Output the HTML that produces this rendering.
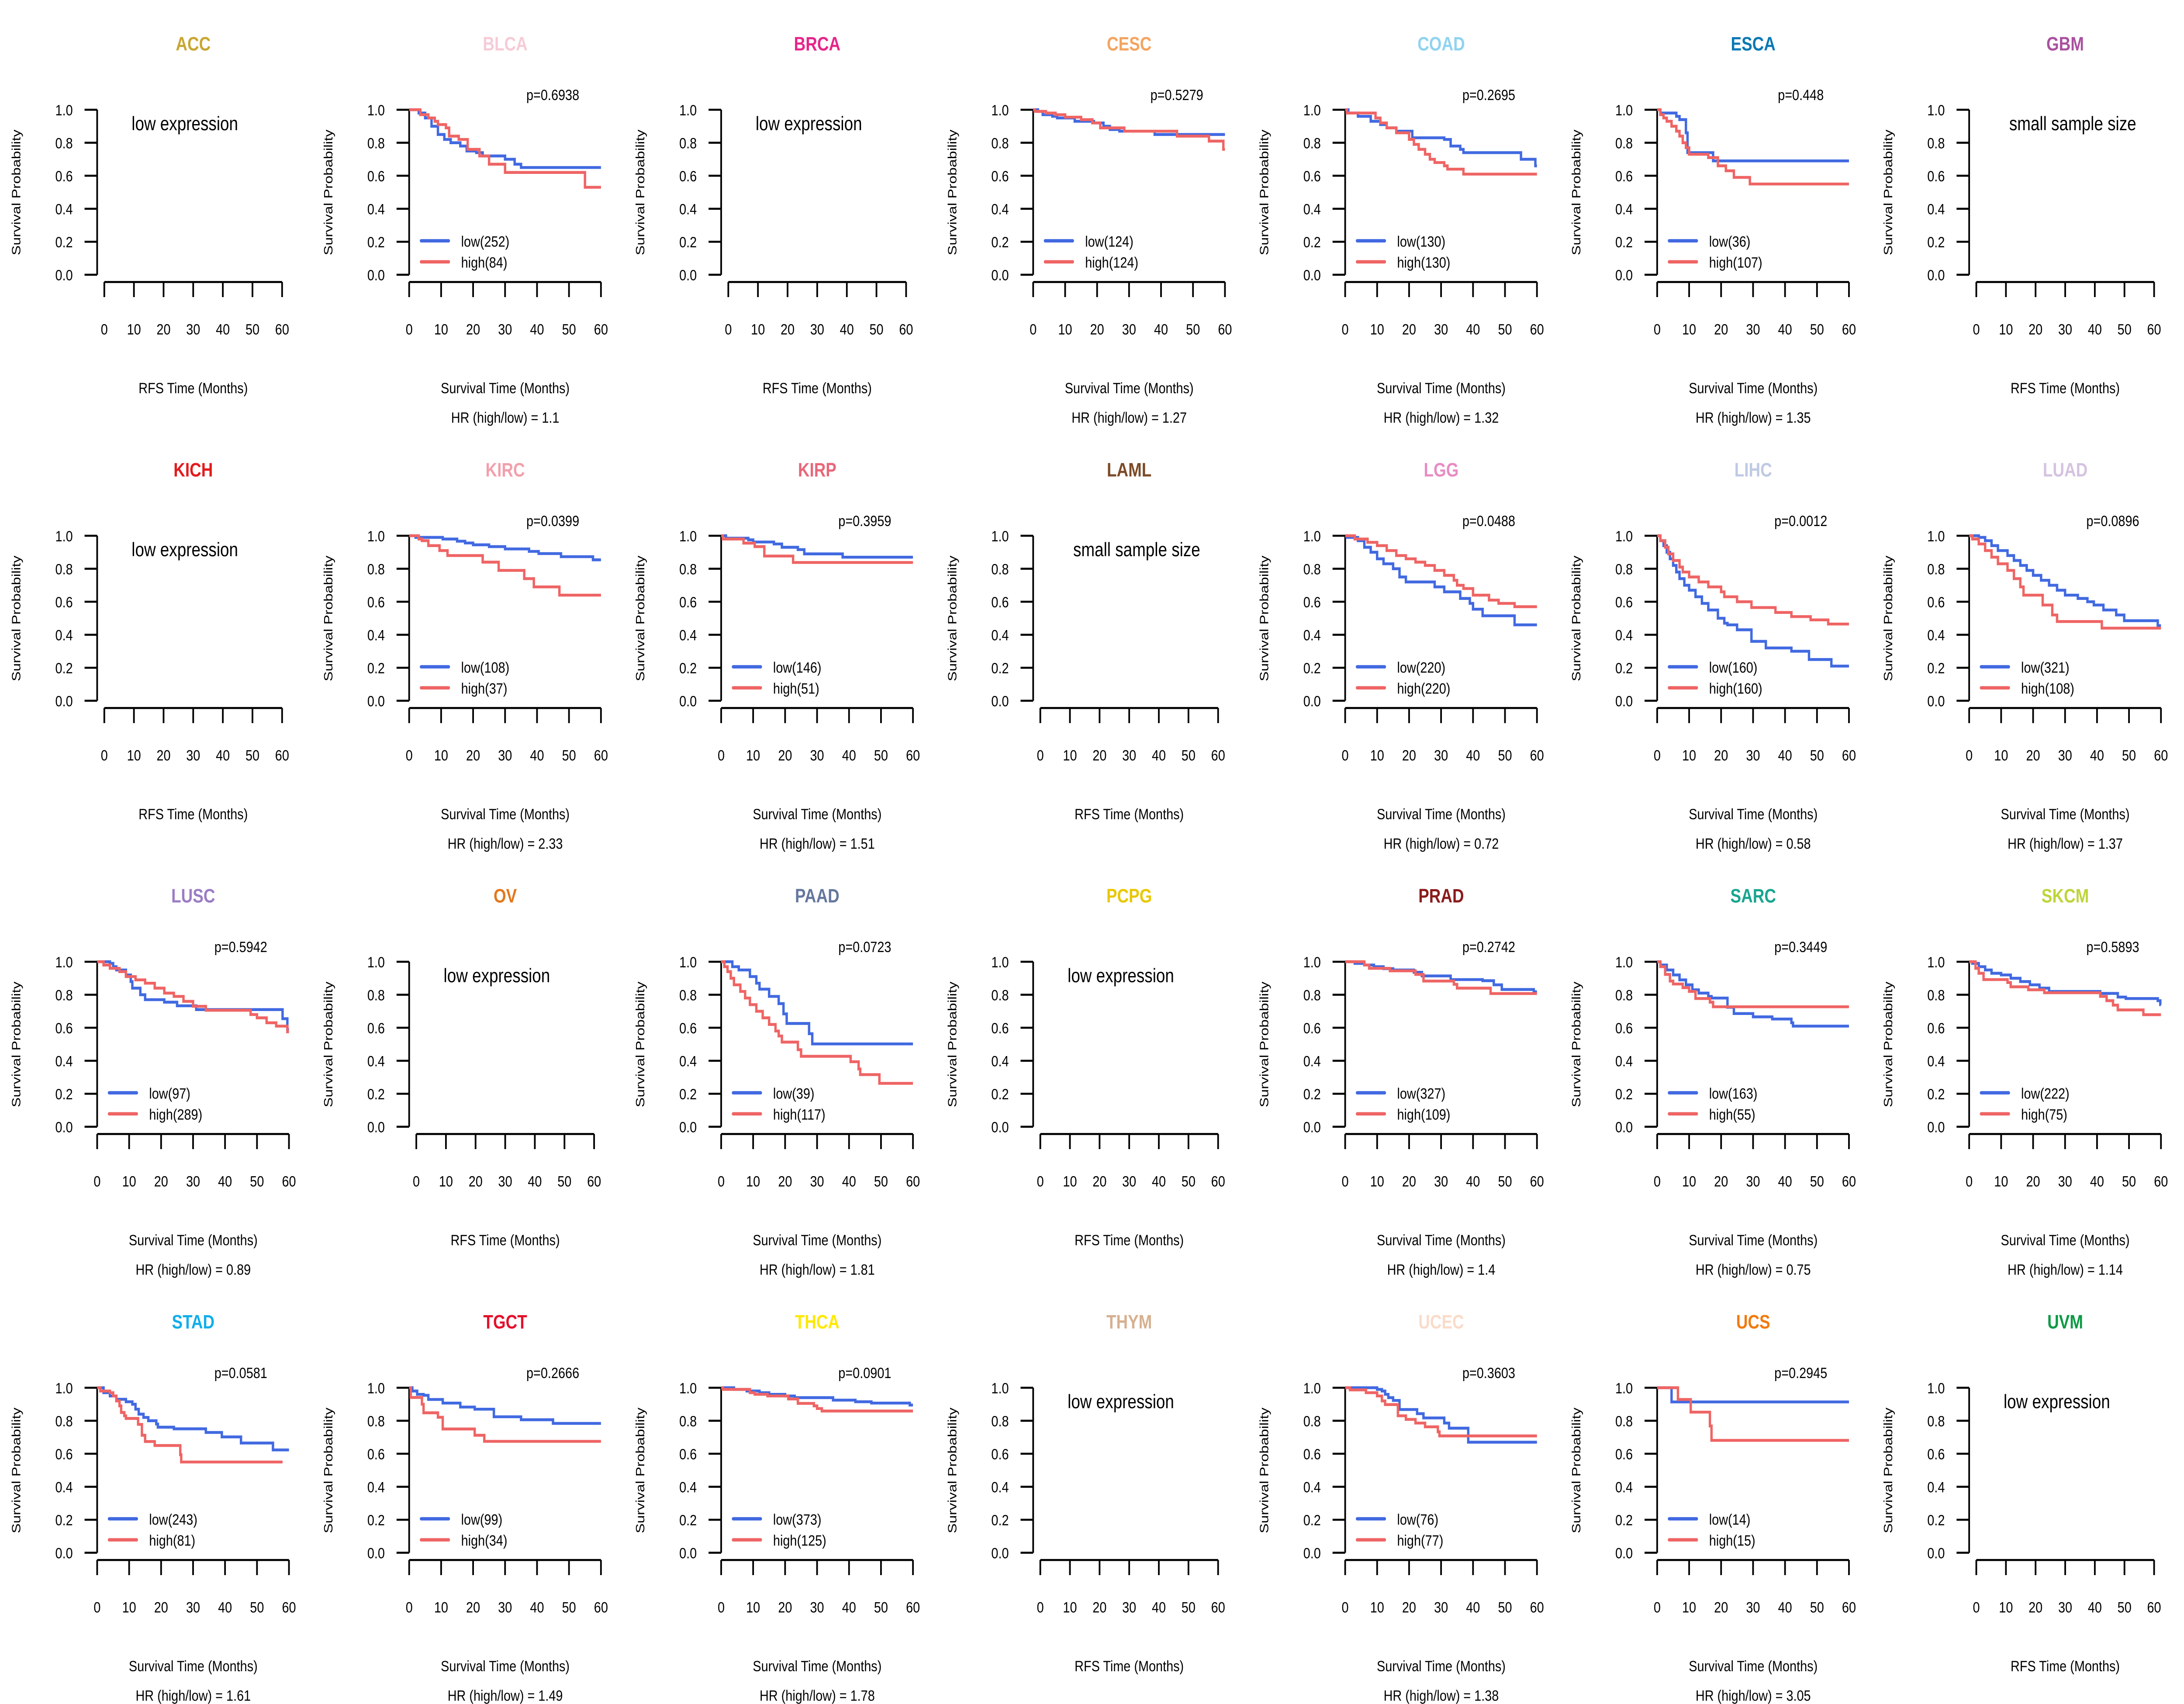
<!DOCTYPE html>
<html>
<head>
<meta charset="utf-8">
<style>
html,body{margin:0;padding:0;background:#fff;width:100%;height:100%;overflow:hidden;}
svg{display:block;width:100vw;height:100vh;}
text{font-family:"Liberation Sans",Arial,sans-serif;fill:#000;}
</style>
</head>
<body>
<svg id="chart" viewBox="0 0 1560 1014" preserveAspectRatio="none" xmlns="http://www.w3.org/2000/svg"></svg>
<script>
const cancerTypes = ["ACC","BLCA","BRCA","CESC","COAD","ESCA","GBM","KICH","KIRC","KIRP","LAML","LGG","LIHC","LUAD","LUSC","OV","PAAD","PCPG","PRAD","SARC","SKCM","STAD","TGCT","THCA","THYM","UCEC","UCS","UVM"];
const panelStatus = ["low","data","low","data","data","data","small","low","data","data","small","data","data","data","data","low","data","low","data","data","data","data","data","data","low","data","data","low"];
const titleColors = ["#C8A632","#F7CBD6","#E6258A","#F4A460","#8FD3F0","#0A78B4","#A9519F","#E31A1C","#F2A0AC","#E8677A","#7B4A26","#E88BC4","#BFC9E4","#D5C2E0","#9A7CC4","#E2781C","#64779E","#E8C700","#8B1A1A","#17A58F","#BED53A","#11AEEA","#E3102B","#FFE800","#D6B08F","#FADBC9","#F27A0C","#0B9A44"];
const pValues = {BLCA:"0.6938",CESC:"0.5279",COAD:"0.2695",ESCA:"0.448",KIRC:"0.0399",KIRP:"0.3959",LGG:"0.0488",LIHC:"0.0012",LUAD:"0.0896",LUSC:"0.5942",PAAD:"0.0723",PRAD:"0.2742",SARC:"0.3449",SKCM:"0.5893",STAD:"0.0581",TGCT:"0.2666",THCA:"0.0901",UCEC:"0.3603",UCS:"0.2945"};
const hrValues = {BLCA:"1.1",CESC:"1.27",COAD:"1.32",ESCA:"1.35",KIRC:"2.33",KIRP:"1.51",LGG:"0.72",LIHC:"0.58",LUAD:"1.37",LUSC:"0.89",PAAD:"1.81",PRAD:"1.4",SARC:"0.75",SKCM:"1.14",STAD:"1.61",TGCT:"1.49",THCA:"1.78",UCEC:"1.38",UCS:"3.05"};
const lowN = {BLCA:252,CESC:124,COAD:130,ESCA:36,KIRC:108,KIRP:146,LGG:220,LIHC:160,LUAD:321,LUSC:97,PAAD:39,PRAD:327,SARC:163,SKCM:222,STAD:243,TGCT:99,THCA:373,UCEC:76,UCS:14};
const highN = {BLCA:84,CESC:124,COAD:130,ESCA:107,KIRC:37,KIRP:51,LGG:220,LIHC:160,LUAD:108,LUSC:289,PAAD:117,PRAD:109,SARC:55,SKCM:75,STAD:81,TGCT:34,THCA:125,UCEC:77,UCS:15};
const xTicks = [0,10,20,30,40,50,60];
const yTicks = [0,0.2,0.4,0.6,0.8,1.0];

const BLCA_low = [[0,1],[3,0.98],[5,0.95],[7,0.9],[9,0.85],[11,0.82],[13,0.8],[16,0.78],[18,0.75],[21,0.74],[23,0.72],[30,0.7],[33,0.67],[35,0.65],[60,0.65]];
const BLCA_high = [[0,1],[3.5,0.97],[6,0.95],[8,0.93],[9,0.91],[11.5,0.89],[12.5,0.84],[15.5,0.82],[18.3,0.76],[22,0.72],[25,0.67],[30,0.62],[55,0.53],[60,0.53]];
const CESC_low = [[0,1],[1.5,0.99],[3,0.97],[6,0.96],[7.5,0.95],[13,0.93],[19,0.92],[22,0.9],[24,0.88],[27,0.87],[38,0.85],[60,0.85]];
const CESC_high = [[0,1],[0.5,0.99],[4,0.98],[7,0.97],[10,0.955],[15,0.94],[18.5,0.92],[21,0.89],[28.5,0.87],[45,0.84],[55,0.81],[59.5,0.76],[60,0.76]];
const COAD_low = [[0,1],[1,0.98],[4,0.96],[8,0.93],[11,0.91],[13,0.89],[16,0.87],[21,0.83],[31,0.82],[33,0.78],[36,0.76],[37,0.74],[55,0.7],[59.5,0.66],[60,0.66]];
const COAD_high = [[0,1],[0.5,0.98],[9.5,0.95],[11,0.92],[13,0.89],[16,0.86],[20,0.82],[21.5,0.79],[23,0.76],[25,0.73],[26.5,0.7],[28,0.68],[31,0.66],[32,0.64],[37,0.61],[60,0.61]];
const ESCA_low = [[0,1],[1,0.98],[6,0.96],[7,0.94],[9,0.86],[9.5,0.74],[17.5,0.69],[60,0.69]];
const ESCA_high = [[0,1],[1,0.97],[2,0.95],[3,0.93],[4.5,0.9],[6,0.87],[7,0.84],[8,0.8],[9,0.77],[10,0.73],[16,0.71],[19,0.66],[21.5,0.63],[24,0.59],[29,0.55],[60,0.55]];
const KIRC_low = [[0,1],[2,0.99],[10.5,0.98],[15,0.967],[17.5,0.956],[20,0.945],[25,0.934],[30,0.92],[37.5,0.905],[40.5,0.892],[47.5,0.873],[57.5,0.854],[60,0.854]];
const KIRC_high = [[0,1],[3,0.98],[4,0.97],[6,0.94],[9.5,0.91],[12,0.88],[23,0.84],[28,0.79],[36,0.74],[39,0.69],[47,0.64],[60,0.64]];
const KIRP_low = [[0,1],[1.5,0.985],[8.5,0.975],[10,0.962],[16.5,0.95],[19,0.93],[24,0.916],[26,0.89],[38,0.87],[60,0.87]];
const KIRP_high = [[0,1],[0.5,0.98],[7,0.955],[10.5,0.934],[13.5,0.877],[22.5,0.838],[60,0.838]];
const LGG_low = [[0,1],[0.5,0.99],[4,0.97],[6,0.93],[8,0.9],[10,0.86],[12,0.83],[15,0.8],[17,0.75],[19,0.72],[28,0.69],[31,0.66],[36,0.62],[39,0.59],[40,0.555],[43,0.515],[53,0.46],[60,0.46]];
const LGG_high = [[0,1],[3,0.98],[7,0.96],[10,0.94],[13,0.91],[16,0.88],[19,0.86],[22,0.84],[25,0.82],[28,0.79],[31,0.76],[34,0.73],[35,0.7],[37,0.68],[40,0.64],[45,0.61],[48,0.59],[53,0.57],[60,0.57]];
const LIHC_low = [[0,1],[1,0.97],[2,0.94],[3,0.9],[4,0.86],[5,0.82],[6,0.78],[7,0.74],[8.5,0.7],[10,0.67],[12,0.63],[14,0.59],[16,0.55],[19,0.5],[21,0.47],[22,0.46],[25,0.43],[29.5,0.36],[34,0.32],[42,0.3],[47.5,0.25],[54.5,0.21],[60,0.21]];
const LIHC_high = [[0,1],[1,0.97],[2.5,0.93],[3.5,0.89],[5,0.85],[7,0.81],[8,0.78],[10,0.75],[13,0.72],[16,0.69],[20,0.66],[21,0.63],[25,0.6],[29.5,0.565],[37,0.535],[42,0.51],[48,0.49],[53.5,0.465],[60,0.465]];
const LUAD_low = [[0,1],[3,0.99],[5,0.97],[7,0.94],[9,0.91],[12,0.88],[14,0.85],[16,0.82],[18,0.79],[20,0.76],[22.5,0.73],[25,0.7],[27.5,0.67],[30,0.64],[34,0.62],[37,0.6],[39,0.58],[42,0.55],[46,0.52],[48.5,0.485],[59,0.455],[60,0.455]];
const LUAD_high = [[0,1],[1,0.98],[3,0.95],[5,0.91],[7,0.87],[9,0.83],[12,0.79],[14,0.74],[16,0.69],[17,0.64],[23,0.58],[26,0.52],[27.5,0.48],[41.5,0.44],[60,0.44]];
const LUSC_low = [[0,1],[4,0.99],[5,0.97],[6,0.95],[9,0.92],[10.5,0.88],[11,0.84],[13.5,0.8],[15,0.77],[21,0.755],[25,0.733],[31,0.71],[58,0.655],[59.5,0.59],[60,0.59]];
const LUSC_high = [[0,1],[2,0.98],[4,0.96],[7,0.94],[9,0.91],[12,0.89],[15,0.87],[18,0.84],[21,0.81],[24,0.79],[27,0.76],[30,0.73],[34,0.706],[48,0.68],[50,0.66],[53,0.63],[56,0.61],[59.5,0.575],[60,0.575]];
const PAAD_low = [[0,1],[3.5,0.97],[5.5,0.95],[9,0.91],[11,0.87],[12,0.834],[15,0.79],[18,0.746],[19.5,0.684],[20.5,0.626],[27.5,0.564],[28.5,0.502],[60,0.502]];
const PAAD_high = [[0,1],[1,0.97],[2,0.94],[3,0.9],[4,0.86],[6,0.82],[7.5,0.78],[9,0.74],[11,0.7],[13,0.66],[15,0.62],[17,0.58],[18,0.55],[19,0.513],[24,0.467],[25,0.427],[40.5,0.394],[43,0.35],[43.5,0.316],[49.5,0.263],[60,0.263]];
const PRAD_low = [[0,1],[3,0.99],[6,0.98],[9,0.97],[12,0.958],[15,0.95],[21.5,0.936],[24,0.914],[33,0.892],[43,0.885],[46.5,0.86],[49,0.832],[59,0.818],[60,0.818]];
const PRAD_high = [[0,1],[6,0.98],[7.5,0.96],[14,0.945],[22,0.923],[24.5,0.883],[34,0.863],[35,0.84],[45.5,0.807],[60,0.807]];
const SARC_low = [[0,1],[1,0.98],[3,0.95],[5,0.92],[7,0.89],[9,0.86],[11,0.83],[13,0.81],[16,0.79],[17,0.78],[22,0.724],[24,0.686],[30,0.666],[36,0.653],[42,0.63],[42.5,0.61],[60,0.61]];
const SARC_high = [[0,1],[1,0.97],[2.5,0.923],[4,0.883],[5,0.865],[8,0.843],[10,0.82],[12,0.777],[16.5,0.755],[17.5,0.727],[60,0.727]];
const SKCM_low = [[0,1],[1,0.99],[3,0.97],[5,0.95],[7,0.93],[10,0.92],[13,0.9],[16,0.88],[19,0.86],[22,0.84],[25,0.82],[41,0.808],[46.5,0.786],[49,0.777],[59,0.764],[59.8,0.74],[60,0.74]];
const SKCM_high = [[0,1],[2,0.96],[3,0.93],[4.5,0.892],[12,0.874],[13,0.848],[18.5,0.83],[23.5,0.812],[41,0.79],[43,0.764],[45,0.737],[46.5,0.708],[54.5,0.679],[60,0.679]];
const STAD_low = [[0,1],[2,0.97],[4,0.95],[6,0.93],[9,0.915],[11,0.9],[12,0.87],[13,0.84],[14.5,0.82],[16,0.8],[18.5,0.78],[19,0.761],[24,0.751],[34,0.729],[39,0.702],[45,0.665],[55,0.623],[60,0.623]];
const STAD_high = [[0,1],[1,0.98],[4,0.97],[5,0.95],[6,0.92],[7,0.89],[7.5,0.85],[8.5,0.83],[9,0.814],[12.8,0.778],[14,0.712],[15,0.674],[18,0.65],[26,0.594],[26.3,0.55],[58,0.55]];
const TGCT_low = [[0,1],[1,0.98],[2.5,0.96],[4.5,0.954],[6,0.929],[10.5,0.907],[16,0.883],[20.5,0.87],[26.5,0.824],[35,0.806],[45,0.784],[60,0.784]];
const TGCT_high = [[0,1],[0.5,0.941],[4,0.9],[4.5,0.848],[9,0.821],[10.5,0.75],[20.5,0.712],[23.5,0.675],[60,0.675]];
const THCA_low = [[0,1],[4,0.99],[8,0.98],[12,0.97],[15,0.96],[20,0.95],[23,0.94],[35,0.925],[42,0.915],[47,0.907],[59,0.895],[60,0.895]];
const THCA_high = [[0,1],[0.5,0.99],[9,0.97],[10.5,0.96],[14.5,0.95],[21,0.932],[24,0.905],[29,0.89],[30,0.874],[31.5,0.859],[60,0.859]];
const UCEC_low = [[0,1],[10,0.99],[11.5,0.98],[12.5,0.96],[13.5,0.94],[15,0.923],[17,0.868],[22.5,0.843],[24.5,0.817],[31,0.786],[32.5,0.755],[38.5,0.67],[60,0.67]];
const UCEC_high = [[0,1],[1.5,0.987],[6.5,0.97],[10,0.95],[11.5,0.92],[12.5,0.898],[16.5,0.83],[19,0.808],[22,0.786],[25,0.763],[29,0.733],[29.5,0.708],[60,0.708]];
const UCS_low = [[0,1],[4.5,0.914],[60,0.914]];
const UCS_high = [[0,1],[6.5,0.929],[10.5,0.852],[16.5,0.768],[17,0.681],[60,0.681]];

const lowCurves = {BLCA:BLCA_low,CESC:CESC_low,COAD:COAD_low,ESCA:ESCA_low,KIRC:KIRC_low,KIRP:KIRP_low,LGG:LGG_low,LIHC:LIHC_low,LUAD:LUAD_low,LUSC:LUSC_low,PAAD:PAAD_low,PRAD:PRAD_low,SARC:SARC_low,SKCM:SKCM_low,STAD:STAD_low,TGCT:TGCT_low,THCA:THCA_low,UCEC:UCEC_low,UCS:UCS_low};
const highCurves = {BLCA:BLCA_high,CESC:CESC_high,COAD:COAD_high,ESCA:ESCA_high,KIRC:KIRC_high,KIRP:KIRP_high,LGG:LGG_high,LIHC:LIHC_high,LUAD:LUAD_high,LUSC:LUSC_high,PAAD:PAAD_high,PRAD:PRAD_high,SARC:SARC_high,SKCM:SKCM_high,STAD:STAD_high,TGCT:TGCT_high,THCA:THCA_high,UCEC:UCEC_high,UCS:UCS_high};

const NS = "http://www.w3.org/2000/svg";
const svg = document.getElementById("chart");
const PW = 1560/7, PH = 253.5;
const BLUE = "#4169E1", RED = "#EF6464";

function mk(tag, attrs, parent, txt){
  const e = document.createElementNS(NS, tag);
  for (const k in attrs) e.setAttribute(k, attrs[k]);
  if (txt !== undefined) e.textContent = txt;
  parent.appendChild(e);
  return e;
}

cancerTypes.forEach((name, i) => {
  const col = i % 7, row = Math.floor(i / 7);
  const px = col * PW, py = row * PH;
  const status = panelStatus[i];
  const g = mk("g", {transform: "translate(" + px + "," + py + ")"}, svg);
  
  

  const t = mk("text", {x:138, y:30, "text-anchor":"middle", "font-size":11.5, "font-weight":"bold", style:"fill:" + titleColors[i]}, g, name);
  
  

  const yl = mk("text", {transform:"translate(14.5,114.5) rotate(-90)", "text-anchor":"middle", "font-size":8.8}, g, "Survival Probability");
  
  

  const yAxisX = 69.4, yTop = 65.3, yBot = 163.5;
  const yS = v => yBot - v * (yBot - yTop);
  const yax = mk("g", {}, g);
  
  
  mk("line", {x1:yAxisX, y1:yS(0), x2:yAxisX, y2:yS(1), stroke:"#000", "stroke-width":1.2}, yax);
  yTicks.forEach(v => {
    mk("line", {x1:yAxisX - 9, y1:yS(v), x2:yAxisX, y2:yS(v), stroke:"#000", "stroke-width":1.2}, yax);
    const tl = mk("text", {x:52, y:yS(v) + 3.3, "text-anchor":"end", "font-size":9}, yax, v.toFixed(1));
    
    
  });

  const isData = status === "data";
  const x0 = isData ? 69.4 : 74.5, x1 = isData ? 206.4 : 201.5;
  const xS = v => x0 + v / 60 * (x1 - x0);
  const axY = 167.8;
  const xax = mk("g", {}, g);
  
  
  mk("line", {x1:xS(0), y1:axY, x2:xS(60), y2:axY, stroke:"#000", "stroke-width":1.2}, xax);
  xTicks.forEach(v => {
    mk("line", {x1:xS(v), y1:axY, x2:xS(v), y2:axY + 9, stroke:"#000", "stroke-width":1.2}, xax);
    const tl = mk("text", {x:xS(v), y:199, "text-anchor":"middle", "font-size":9}, xax, String(v));
    
    
  });

  const xl = mk("text", {x:138, y:234, "text-anchor":"middle", "font-size":9}, g, isData ? "Survival Time (Months)" : "RFS Time (Months)");
  
  

  if (!isData) {
    const msg = status === "low" ? "low expression" : "small sample size";
    const m = mk("text", {x: status === "low" ? 94 : 98, y:77.5, "font-size":11.5}, g, msg);
    
    
    return;
  }

  function stepPath(arr){
    let d = "M" + xS(arr[0][0]).toFixed(2) + "," + yS(arr[0][1]).toFixed(2);
    for (let k = 1; k < arr.length; k++) {
      d += "H" + xS(arr[k][0]).toFixed(2) + "V" + yS(arr[k][1]).toFixed(2);
    }
    return d;
  }
  const lp = mk("path", {d: stepPath(lowCurves[name]), fill:"none", stroke:BLUE, "stroke-width":1.7}, g);
  
  
  const hp = mk("path", {d: stepPath(highCurves[name]), fill:"none", stroke:RED, "stroke-width":1.7}, g);
  
  

  const pv = mk("text", {x:172, y:59.5, "text-anchor":"middle", "font-size":9}, g, "p=" + pValues[name]);
  
  

  const lg = mk("g", {}, g);
  
  
  mk("line", {x1:78, y1:143.3, x2:97.6, y2:143.3, stroke:BLUE, "stroke-width":2, "stroke-linecap":"round"}, lg);
  const l1 = mk("text", {x:106.5, y:146.8, "font-size":9}, lg, "low(" + lowN[name] + ")");
  
  
  mk("line", {x1:78, y1:155.8, x2:97.6, y2:155.8, stroke:RED, "stroke-width":2, "stroke-linecap":"round"}, lg);
  const l2 = mk("text", {x:106.5, y:159.3, "font-size":9}, lg, "high(" + highN[name] + ")");
  
  

  const hr = mk("text", {x:138, y:251.5, "text-anchor":"middle", "font-size":9}, g, "HR (high/low) =  " + hrValues[name]);
  
  
});
</script>
</body>
</html>
